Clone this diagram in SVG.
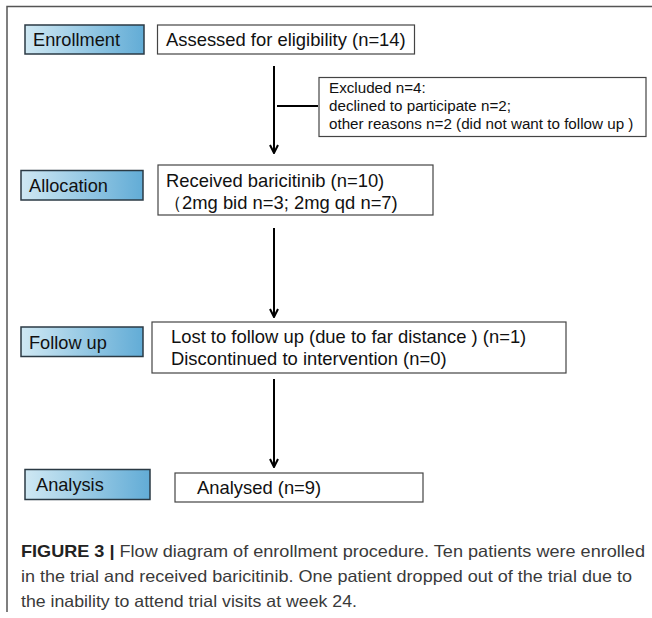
<svg xmlns="http://www.w3.org/2000/svg" width="652" height="618" viewBox="0 0 652 618">
<defs>
<linearGradient id="lbl" x1="0" y1="0" x2="1" y2="0">
<stop offset="0" stop-color="#cfe8f3"/>
<stop offset="1" stop-color="#62acd6"/>
</linearGradient>
<marker id="ah" viewBox="0 0 10 10" refX="9" refY="5" markerWidth="10" markerHeight="10" markerUnits="userSpaceOnUse" orient="auto">
<path d="M1,1 L9,5 L1,9" fill="none" stroke="#000" stroke-width="2"/>
</marker>
<style>
.lbl{fill:url(#lbl);stroke:#2b3a44;stroke-width:1.5}
.box{fill:#fff;stroke:#444;stroke-width:1.2}
.t{font-family:"Liberation Sans",Arial,sans-serif;fill:#111}
.lt{font-size:18.2px}
.bt{font-size:18.4px}
.st{font-size:15.2px}
.cap{font-family:"Liberation Sans",Arial,sans-serif;font-size:16.5px;fill:#3a3a3a}
.conn{stroke:#000;stroke-width:2;fill:none}
</style>
</defs>
<rect width="652" height="618" fill="#fff"/>
<path d="M7,612 V6.5 H652" fill="none" stroke="#555" stroke-width="1.5"/>

<g id="connectors">
<line class="conn" x1="274" y1="66" x2="274" y2="153" marker-end="url(#ah)"/>
<line x1="277" y1="106" x2="318" y2="106" stroke="#000" stroke-width="2"/>
<line class="conn" x1="274" y1="228" x2="274" y2="317" marker-end="url(#ah)"/>
<line class="conn" x1="274" y1="379" x2="274" y2="467" marker-end="url(#ah)"/>
</g>

<g id="enrollment-label">
<rect class="lbl" x="25" y="25" width="119" height="29"/>
<text class="t lt" x="33" y="46">Enrollment</text>
</g>
<g id="assessed">
<rect class="box" x="157.5" y="25" width="257" height="29"/>
<text class="t bt" x="166" y="46">Assessed for eligibility (n=14)</text>
</g>
<g id="excluded">
<rect class="box" x="319" y="77.5" width="327" height="59"/>
<text class="t st" x="329" y="93">Excluded n=4:</text>
<text class="t st" x="329" y="111">declined to participate n=2;</text>
<text class="t st" x="329" y="129">other reasons n=2 (did not want to follow up )</text>
</g>

<g id="allocation-label">
<rect class="lbl" x="21" y="170.5" width="122" height="29.5"/>
<text class="t lt" x="29" y="192">Allocation</text>
</g>
<g id="received">
<rect class="box" x="158" y="165" width="275" height="50"/>
<text class="t bt" x="166" y="187">Received baricitinib (n=10)</text>
<text class="t bt" x="164" y="209">（2mg bid n=3; 2mg qd n=7)</text>
</g>

<g id="followup-label">
<rect class="lbl" x="21" y="327" width="122" height="29.5"/>
<text class="t lt" x="29" y="349">Follow up</text>
</g>
<g id="lost">
<rect class="box" x="152" y="322" width="414" height="51"/>
<text class="t bt" x="171" y="343">Lost to follow up (due to far distance ) (n=1)</text>
<text class="t bt" x="171" y="365">Discontinued to intervention (n=0)</text>
</g>

<g id="analysis-label">
<rect class="lbl" x="25" y="469.5" width="125" height="30"/>
<text class="t lt" x="36" y="491">Analysis</text>
</g>
<g id="analysed">
<rect class="box" x="175" y="473" width="248" height="29"/>
<text class="t bt" x="197" y="494">Analysed (n=9)</text>
</g>

<text class="cap" x="21" y="557" textLength="624" lengthAdjust="spacingAndGlyphs"><tspan font-weight="bold" fill="#222">FIGURE 3 |</tspan> Flow diagram of enrollment procedure. Ten patients were enrolled</text>
<text class="cap" x="21" y="582" textLength="611" lengthAdjust="spacingAndGlyphs">in the trial and received baricitinib. One patient dropped out of the trial due to</text>
<text class="cap" x="21" y="607" textLength="336" lengthAdjust="spacingAndGlyphs">the inability to attend trial visits at week 24.</text>
</svg>
